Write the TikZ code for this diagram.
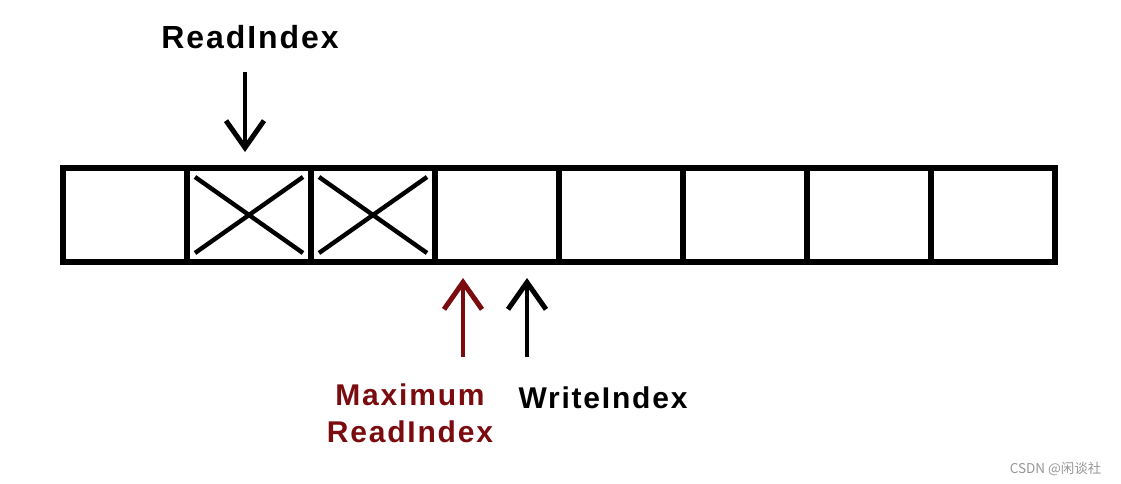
\documentclass[tikz,border=0pt]{standalone}
\usepackage{fontspec}
\usepackage{xcolor}
\usepackage{tikz}
\usetikzlibrary{arrows.meta,positioning,calc}
\setmainfont{Liberation Sans}
\newfontfamily\lblfont[LetterSpace=6]{Liberation Sans}
\newfontfamily\cjk{Noto Sans CJK SC}
\definecolor{maxred}{RGB}{122,12,16}
\definecolor{markgray}{RGB}{150,150,150}

\begin{document}
\begin{tikzpicture}[
  x=1pt, y=-1pt,
  cell/.style={draw, line width=5.5pt, minimum width=124pt, minimum height=94pt, inner sep=0pt, outer sep=0pt},
  cross/.style={line width=4.4pt},
  ptr/.style={line width=4.8pt, shorten >=16pt, -{Straight Barb[length=27pt,width=38pt,line width=5pt]}},
  toplab/.style={font=\fontsize{32}{38}\selectfont\lblfont\bfseries, anchor=base},
  botlab/.style={font=\fontsize{30}{37}\selectfont\lblfont\bfseries, anchor=base, align=center},
  wmark/.style={font=\fontsize{13.5}{16}\selectfont\cjk, text=markgray, anchor=base east}
]
\useasboundingbox (0,0) rectangle (1121,484);

\def\xL{63}
\def\yM{215}

% buffer slots
\foreach \i in {1,...,8}
  \node[cell] (c\i) at ({\xL+62+124*(\i-1)}, \yM) {};

% consumed slots
\foreach \i in {2,3} {
  \draw[cross] ([xshift=8pt,yshift=-9pt]c\i.north west) -- ([xshift=-8pt,yshift=9pt]c\i.south east);
  \draw[cross] ([xshift=8pt,yshift=9pt]c\i.south west) -- ([xshift=-8pt,yshift=-9pt]c\i.north east);
}

% labels
\node[toplab] (rd) at (250,49) {ReadIndex};
\node[botlab, text=maxred] (maxrd) at (410,442) {Maximum\\ReadIndex};
\node[botlab] (wr) at (603,408) {WriteIndex};
\node[wmark] (csdn) at (1105,473) {CSDN @闲谈社};

% pointers
\coordinate (rdtop) at (245,72);
\coordinate (maxbot) at (463,357);
\coordinate (wrbot) at (527,357);
\draw[ptr] (rdtop) -- (rdtop |- c2.north);
\draw[ptr, maxred] (maxbot) -- (maxbot |- c4.south);
\draw[ptr] (wrbot) -- (wrbot |- c4.south);

\end{tikzpicture}
\end{document}
